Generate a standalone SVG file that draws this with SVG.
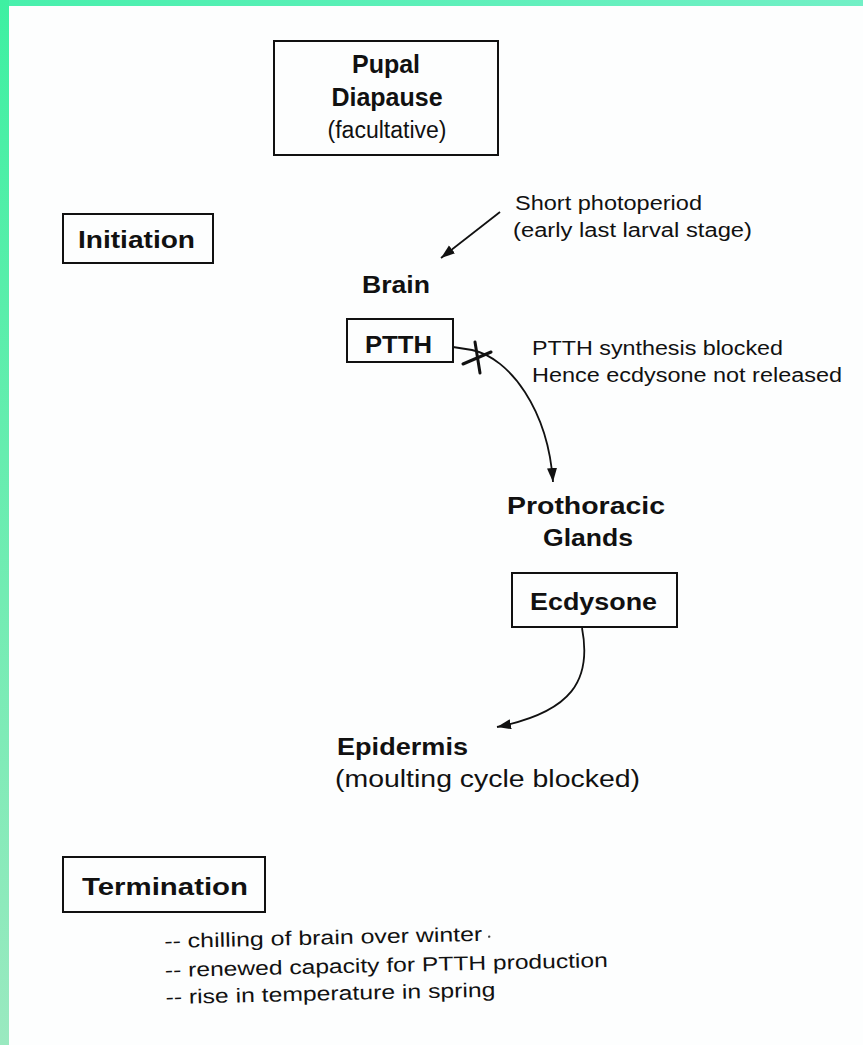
<svg xmlns="http://www.w3.org/2000/svg" width="863" height="1045" viewBox="0 0 863 1045">
<defs>
<linearGradient id="gl" x1="0" y1="0" x2="0" y2="1"><stop offset="0" stop-color="#3ef0a2"/><stop offset="1" stop-color="#9ae9c0"/></linearGradient>
<linearGradient id="gt" x1="0" y1="0" x2="1" y2="0"><stop offset="0" stop-color="#48f0ac"/><stop offset="1" stop-color="#72f0c6"/></linearGradient>
<marker id="ah" markerUnits="userSpaceOnUse" markerWidth="16" markerHeight="12" refX="14" refY="5" orient="auto"><path d="M0,0 L14,5 L0,10 z" fill="#111"/></marker>
<style>
.box{fill:none;stroke:#111;stroke-width:2}
.b{font-family:"Liberation Sans",Arial,sans-serif;font-weight:bold;fill:#111;font-size:23px}
.r{font-family:"Liberation Sans",Arial,sans-serif;fill:#111;font-size:20px}
.rl{font-family:"Liberation Sans",Arial,sans-serif;fill:#111;font-size:23px}
.big{font-size:25px}
.c{fill:none;stroke:#111;stroke-width:1.8}
.x{fill:none;stroke:#111;stroke-width:3;stroke-linecap:round}
</style>
</defs>
<rect width="863" height="1045" fill="#fdfefe"/>
<rect x="0" y="0" width="863" height="6" fill="url(#gt)"/>
<rect x="0" y="0" width="9" height="1045" fill="url(#gl)"/>

<g id="pupal-diapause">
<rect class="box" x="274" y="41" width="224" height="114"/>
<text class="b big" x="386" y="73" text-anchor="middle">Pupal</text>
<text class="b big" x="387" y="106" text-anchor="middle">Diapause</text>
<text class="rl" x="387" y="138" text-anchor="middle">(facultative)</text>
</g>

<g id="initiation">
<rect class="box" x="63" y="214" width="150" height="49"/>
<text class="b" x="78" y="248" textLength="117" lengthAdjust="spacingAndGlyphs">Initiation</text>
</g>

<g id="short-photoperiod">
<text class="r" x="515" y="210" textLength="187" lengthAdjust="spacingAndGlyphs">Short photoperiod</text>
<text class="r" x="513" y="237" textLength="239" lengthAdjust="spacingAndGlyphs">(early last larval stage)</text>
</g>

<g id="brain">
<text class="b" x="362" y="293" textLength="68" lengthAdjust="spacingAndGlyphs">Brain</text>
</g>

<g id="ptth">
<rect class="box" x="347" y="319" width="106" height="43"/>
<text class="b" x="365" y="353" textLength="67" lengthAdjust="spacingAndGlyphs">PTTH</text>
</g>

<g id="blocked-note">
<text class="r" x="532" y="355" textLength="251" lengthAdjust="spacingAndGlyphs">PTTH synthesis blocked</text>
<text class="r" x="532" y="382" textLength="310" lengthAdjust="spacingAndGlyphs">Hence ecdysone not released</text>
</g>

<g id="prothoracic-glands">
<text class="b" x="586" y="514" text-anchor="middle" textLength="158" lengthAdjust="spacingAndGlyphs">Prothoracic</text>
<text class="b" x="588" y="546" text-anchor="middle" textLength="90" lengthAdjust="spacingAndGlyphs">Glands</text>
</g>

<g id="ecdysone">
<rect class="box" x="512" y="573" width="165" height="54"/>
<text class="b" x="530" y="610" textLength="127" lengthAdjust="spacingAndGlyphs">Ecdysone</text>
</g>

<g id="epidermis">
<text class="b" x="337" y="755" textLength="131" lengthAdjust="spacingAndGlyphs">Epidermis</text>
<text class="rl" x="335" y="787" textLength="305" lengthAdjust="spacingAndGlyphs">(moulting cycle blocked)</text>
</g>

<g id="termination">
<rect class="box" x="63" y="857" width="202" height="55"/>
<text class="b" x="82" y="895" textLength="166" lengthAdjust="spacingAndGlyphs">Termination</text>
</g>

<g id="termination-list" transform="rotate(-1.3 165 975)">
<text class="r" x="165" y="948" textLength="318" lengthAdjust="spacingAndGlyphs">-- chilling of brain over winter</text>
<circle cx="490" cy="944" r="1.2" fill="#444"/>
<text class="r" x="165" y="977" textLength="443" lengthAdjust="spacingAndGlyphs">-- renewed capacity for PTTH production</text>
<text class="r" x="165" y="1004" textLength="330" lengthAdjust="spacingAndGlyphs">-- rise in temperature in spring</text>
</g>

<g id="connectors">
<line class="c" x1="500" y1="212" x2="441" y2="258" marker-end="url(#ah)"/>
<path class="c" d="M453,347 L472,350 C510,358 548,410 553,482" marker-end="url(#ah)"/>
<line class="x" x1="463" y1="364" x2="491" y2="352"/>
<line class="x" x1="475" y1="342" x2="480" y2="373"/>
<path class="c" d="M582,628 C592,680 572,712 497,727" marker-end="url(#ah)"/>
</g>
</svg>
